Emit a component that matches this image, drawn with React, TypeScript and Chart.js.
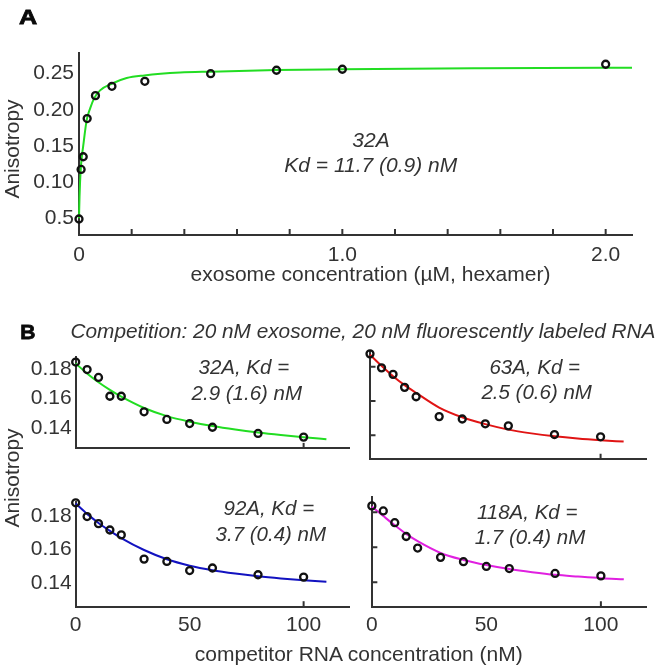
import React, { useEffect, useRef } from 'react';
import { Chart, registerables } from 'chart.js';

Chart.register(...registerables);

const FONT_FAMILY = '"Liberation Sans", Arial, Helvetica, sans-serif';
const INK = '#333333';
const MARKER = '#111111';

// ---------- Panel A: direct binding ----------
const A_CONC_UM = [0, 0.008, 0.016, 0.031, 0.0625, 0.125, 0.25, 0.5, 0.75, 1.0, 2.0];
const A_ANISOTROPY = [0.049, 0.1176, 0.1351, 0.1879, 0.2196, 0.2325, 0.2394, 0.25, 0.2547, 0.2561, 0.263];
const A_FIT_X = [0, 0.002, 0.004, 0.008, 0.016, 0.029, 0.042, 0.057, 0.08, 0.124, 0.181, 0.248, 0.384, 0.5, 0.75, 1.0, 1.5, 2.0, 2.1];
const A_FIT_Y = [0.05, 0.08, 0.1, 0.125, 0.15, 0.1855, 0.2017, 0.2155, 0.2269, 0.2361, 0.244, 0.2476, 0.2515, 0.2528, 0.255, 0.256, 0.2575, 0.2583, 0.2583];
const A_X_TICKS = [0, 1, 2];
const A_X_TICK_LABELS = ['0', '1.0', '2.0'];
const A_X_TICK_MARKS = [0.2, 0.4, 0.6, 0.8, 1.0, 1.2, 1.4, 1.6, 1.8, 2.0];
const A_Y_TICKS = [0.05, 0.1, 0.15, 0.2, 0.25];
const A_Y_TICK_LABELS = ['0.5', '0.10', '0.15', '0.20', '0.25'];

// ---------- Panel B: competition ----------
const B_CONC_NM = [0, 5, 10, 15, 20, 30, 40, 50, 60, 80, 100];
const B_32A = [0.1848, 0.1797, 0.1743, 0.1615, 0.1615, 0.1509, 0.1457, 0.1429, 0.1404, 0.1362, 0.1337];
const B_63A = [0.1876, 0.1794, 0.1756, 0.168, 0.1625, 0.1509, 0.1495, 0.1467, 0.1455, 0.1404, 0.1391];
const B_92A = [0.1878, 0.1796, 0.1754, 0.1716, 0.1687, 0.1543, 0.1529, 0.1475, 0.149, 0.145, 0.1436];
const B_118A = [0.1836, 0.1807, 0.174, 0.1661, 0.1595, 0.1542, 0.1517, 0.149, 0.1478, 0.145, 0.1436];
const B_FIT_X = [0, 5, 10, 15, 20, 30, 40, 50, 60, 70, 80, 90, 100, 110];
const B_FIT_32A = [0.1838, 0.177, 0.171, 0.1658, 0.1612, 0.1535, 0.148, 0.1442, 0.1412, 0.1388, 0.1368, 0.1351, 0.1336, 0.1322];
const B_FIT_63A = [0.1871, 0.1806, 0.1745, 0.1693, 0.1648, 0.1562, 0.1505, 0.1465, 0.1433, 0.1411, 0.1394, 0.1381, 0.1371, 0.1363];
const B_FIT_92A = [0.1874, 0.1812, 0.1758, 0.1711, 0.1668, 0.1597, 0.1542, 0.1504, 0.1477, 0.1457, 0.1441, 0.1428, 0.1417, 0.1408];
const B_FIT_118A = [0.1832, 0.1778, 0.1725, 0.1676, 0.1634, 0.1567, 0.1527, 0.1498, 0.1475, 0.1457, 0.1442, 0.1432, 0.1423, 0.1417];
const B_X_TICKS = [0, 50, 100];
const B_X_TICK_LABELS = ['0', '50', '100'];
const B_X_TICK_MARKS = [100];
const B_Y_TICKS = [0.14, 0.16, 0.18];
const B_Y_TICK_LABELS = ['0.14', '0.16', '0.18'];
const B_Y_TICK_MARKS = [0.14, 0.16, 0.18];

const GREEN = '#22dd22';
const RED = '#e01414';
const BLUE = '#1212c0';
const MAGENTA = '#e020e0';

type PlotSpec = {
  left: number; top: number; width: number; height: number;
  padTop: number; padRight: number; yAxisWidth: number; xAxisHeight: number;
  xMin: number; xMax: number; yMin: number; yMax: number;
  xTicks: number[]; xLabels: string[] | null; xLabelPad: number; xLabelSize: number;
  yTicks: number[]; yLabels: string[] | null; yLabelPad: number; yLabelSize: number;
  xMarks: number[]; yMarks: number[];
  px: number[]; py: number[]; cx: number[]; cy: number[]; color: string;
};

function zipXY(xs: number[], ys: number[]) {
  return xs.map((x, i) => ({ x, y: ys[i] }));
}

function makeInnerTicks(xMarks: number[], yMarks: number[]) {
  return {
    id: 'innerTicks',
    afterDatasetsDraw(chart: any) {
      const { ctx, chartArea, scales } = chart;
      ctx.save();
      ctx.strokeStyle = INK;
      ctx.lineWidth = 2;
      ctx.beginPath();
      xMarks.forEach((v) => {
        const p = scales.x.getPixelForValue(v);
        ctx.moveTo(p, chartArea.bottom);
        ctx.lineTo(p, chartArea.bottom - 5.5);
      });
      yMarks.forEach((v) => {
        const p = scales.y.getPixelForValue(v);
        ctx.moveTo(chartArea.left, p);
        ctx.lineTo(chartArea.left + 5.5, p);
      });
      ctx.stroke();
      ctx.restore();
    },
  };
}

function Plot({ s }: { s: PlotSpec }) {
  const ref = useRef<HTMLCanvasElement | null>(null);
  useEffect(() => {
    if (!ref.current) return;
    const chart = new Chart(ref.current, {
      type: 'scatter',
      data: {
        datasets: [
          {
            data: zipXY(s.px, s.py),
            showLine: false,
            pointRadius: 3.5,
            pointHoverRadius: 3.5,
            pointBorderWidth: 2.3,
            pointBorderColor: MARKER,
            pointBackgroundColor: 'rgba(0,0,0,0)',
            clip: false,
          } as any,
          {
            data: zipXY(s.cx, s.cy),
            showLine: true,
            borderColor: s.color,
            borderWidth: 2,
            pointRadius: 0,
            pointHoverRadius: 0,
            fill: false,
            cubicInterpolationMode: 'monotone',
            clip: false,
          } as any,
        ],
      },
      options: {
        responsive: false,
        animation: false,
        devicePixelRatio: 1,
        events: [],
        layout: { padding: { top: s.padTop, right: s.padRight, left: 0, bottom: 0 } },
        plugins: { legend: { display: false }, tooltip: { enabled: false } },
        scales: {
          x: {
            type: 'linear',
            min: s.xMin,
            max: s.xMax,
            afterBuildTicks: (sc: any) => { sc.ticks = s.xTicks.map((v) => ({ value: v })); },
            afterFit: (sc: any) => { sc.height = s.xAxisHeight; },
            grid: { display: false, drawTicks: false },
            border: { display: true, color: INK, width: 2 },
            ticks: {
              display: !!s.xLabels,
              autoSkip: false,
              maxRotation: 0,
              minRotation: 0,
              padding: s.xLabelPad,
              color: INK,
              font: { family: FONT_FAMILY, size: s.xLabelSize },
              callback: (v: any) => (s.xLabels ? s.xLabels[s.xTicks.indexOf(Number(v))] ?? '' : ''),
            },
          },
          y: {
            type: 'linear',
            min: s.yMin,
            max: s.yMax,
            afterBuildTicks: (sc: any) => { sc.ticks = s.yTicks.map((v) => ({ value: v })); },
            afterFit: (sc: any) => { sc.width = s.yAxisWidth; },
            grid: { display: false, drawTicks: false },
            border: { display: true, color: INK, width: 2 },
            ticks: {
              display: !!s.yLabels,
              autoSkip: false,
              padding: s.yLabelPad,
              color: INK,
              font: { family: FONT_FAMILY, size: s.yLabelSize },
              callback: (v: any) => (s.yLabels ? s.yLabels[s.yTicks.indexOf(Number(v))] ?? '' : ''),
            },
          },
        },
      } as any,
      plugins: [makeInnerTicks(s.xMarks, s.yMarks)],
    });
    return () => chart.destroy();
  }, []);
  return (
    <canvas
      ref={ref}
      width={s.width}
      height={s.height}
      style={{ position: 'absolute', left: s.left, top: s.top, width: s.width, height: s.height }}
    />
  );
}

function Label({ x, y, text, size, italic, bold, rotate, stretch }: {
  x: number; y: number; text: string; size: number; italic?: boolean; bold?: boolean; rotate?: boolean; stretch?: number;
}) {
  let transform = 'translate(-50%, -50%)';
  if (rotate) transform += ' rotate(-90deg)';
  if (stretch) transform += ` scaleX(${stretch})`;
  return (
    <div
      style={{
        position: 'absolute',
        left: x,
        top: y,
        transform,
        whiteSpace: 'nowrap',
        lineHeight: 1,
        fontFamily: FONT_FAMILY,
        fontSize: size,
        fontStyle: italic ? 'italic' : 'normal',
        fontWeight: bold ? 'bold' : 'normal',
        color: bold ? '#0a0a0a' : INK,
        WebkitTextStroke: bold ? '0.8px #0a0a0a' : undefined,
      }}
    >
      {text}
    </div>
  );
}

const B_Y_RANGE = { yMin: 0.126, yMax: 0.1885 };

const plotA: PlotSpec = {
  left: 0, top: 0, width: 661, height: 290,
  padTop: 52.7, padRight: 29, yAxisWidth: 79, xAxisHeight: 55.5,
  xMin: 0, xMax: 2.1, yMin: 0.0276, yMax: 0.279,
  xTicks: A_X_TICKS, xLabels: A_X_TICK_LABELS, xLabelPad: 8, xLabelSize: 21,
  yTicks: A_Y_TICKS, yLabels: A_Y_TICK_LABELS, yLabelPad: 5, yLabelSize: 21,
  xMarks: A_X_TICK_MARKS, yMarks: [],
  px: A_CONC_UM, py: A_ANISOTROPY, cx: A_FIT_X, cy: A_FIT_Y, color: GREEN,
};

function bSpec(col: number, row: number, py: number[], cy: number[], color: string): PlotSpec {
  const left = col === 0 ? 0 : 360;
  const width = col === 0 ? 355 : 301;
  const top = row === 0 ? 340 : 485;
  const height = row === 0 ? 125 : 183;
  return {
    left, top, width, height,
    padTop: 12.3,
    padRight: col === 0 ? 3 : 14.3,
    yAxisWidth: col === 0 ? 75.7 : 10,
    xAxisHeight: row === 0 ? 3.3 : 61.3,
    xMin: 0, xMax: 120, ...B_Y_RANGE,
    xTicks: B_X_TICKS, xLabels: row === 1 ? B_X_TICK_LABELS : null, xLabelPad: 6, xLabelSize: 21,
    yTicks: B_Y_TICKS, yLabels: col === 0 ? B_Y_TICK_LABELS : null, yLabelPad: 4, yLabelSize: 21,
    xMarks: B_X_TICK_MARKS, yMarks: col === 1 ? B_Y_TICK_MARKS : [],
    px: B_CONC_NM, py, cx: B_FIT_X, cy, color,
  };
}

const plotsB: PlotSpec[] = [
  bSpec(0, 0, B_32A, B_FIT_32A, GREEN),
  bSpec(1, 0, B_63A, B_FIT_63A, RED),
  bSpec(0, 1, B_92A, B_FIT_92A, BLUE),
  bSpec(1, 1, B_118A, B_FIT_118A, MAGENTA),
];

export default function App() {
  return (
    <div style={{ position: 'fixed', left: 0, top: 0, width: 661, height: 668, background: '#fff', overflow: 'hidden' }}>
      <Plot s={plotA} />
      {plotsB.map((s, i) => <Plot key={i} s={s} />)}

      <Label x={27.8} y={15.5} text="A" size={21} bold stretch={1.2} />
      <Label x={10.8} y={148.5} text="Anisotropy" size={21} rotate />
      <Label x={370.5} y={272.5} text="exosome concentration (µM, hexamer)" size={21} />
      <Label x={371} y={139.2} text="32A" size={21} italic />
      <Label x={370.8} y={164.2} text="Kd = 11.7 (0.9) nM" size={21} italic />

      <Label x={27.8} y={330.8} text="B" size={21} bold />
      <Label x={363} y={330.5} text="Competition: 20 nM exosome, 20 nM fluorescently labeled RNA" size={20.8} italic />
      <Label x={10.8} y={477.5} text="Anisotropy" size={21} rotate />
      <Label x={358.8} y={652.5} text="competitor RNA concentration (nM)" size={21} />

      <Label x={243.8} y={366.7} text="32A, Kd =" size={20.5} italic />
      <Label x={246.8} y={393.3} text="2.9 (1.6) nM" size={20.5} italic />
      <Label x={534.7} y={366.7} text="63A, Kd =" size={20.5} italic />
      <Label x={536.7} y={391.7} text="2.5 (0.6) nM" size={20.5} italic />
      <Label x={268.8} y={508.3} text="92A, Kd =" size={20.5} italic />
      <Label x={270.8} y={533.7} text="3.7 (0.4) nM" size={20.5} italic />
      <Label x={527.2} y={511.7} text="118A, Kd =" size={20.5} italic />
      <Label x={530} y={536.7} text="1.7 (0.4) nM" size={20.5} italic />
    </div>
  );
}
